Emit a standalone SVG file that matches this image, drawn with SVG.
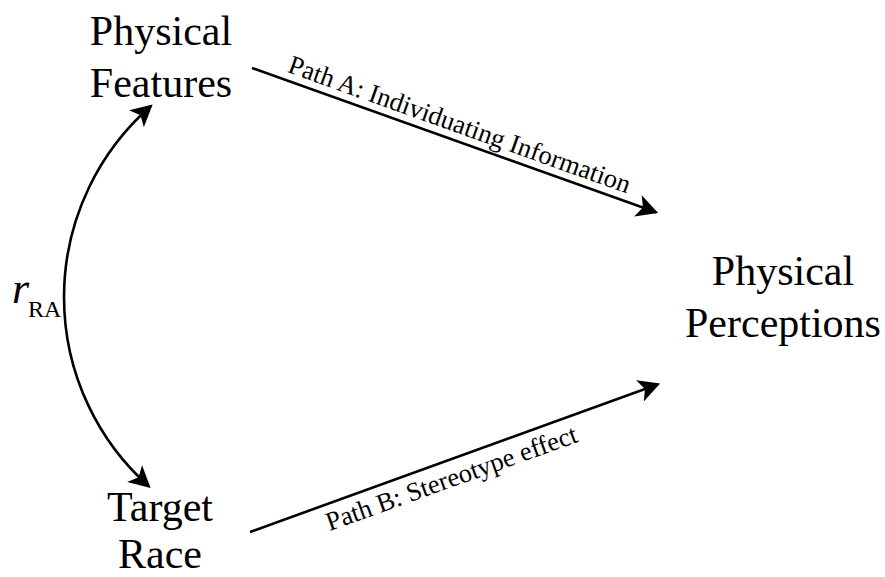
<svg xmlns="http://www.w3.org/2000/svg" width="885" height="577" viewBox="0 0 885 577">
  <style>
    .node { font-family: "Liberation Serif", "Times New Roman", serif; font-size: 42px; fill: #000; text-anchor: middle; }
    .lbl { font-family: "Liberation Serif", "Times New Roman", serif; font-size: 26.5px; fill: #000; text-anchor: middle; }
    .conn { fill: none; stroke: #000; stroke-width: 2.6; }
  </style>
  <defs>
    <marker id="arr" markerUnits="userSpaceOnUse" markerWidth="30" markerHeight="30" viewBox="-24 -12 28 24" refX="-2" refY="0" orient="auto-start-reverse">
      <path d="M0,0 L-20,-10.5 L-15,0 L-20,10.5 Z" fill="#000"/>
    </marker>
  </defs>
  <rect width="885" height="577" fill="#fff"/>
  <g id="connectors">
    <path class="conn" d="M252,68 L656.1,212.3" marker-end="url(#arr)"/>
    <path class="conn" d="M250,532 L658.1,384.3" marker-end="url(#arr)"/>
    <path class="conn" d="M151,106 A253.5,253.5 0 0 0 149,486.5" marker-start="url(#arr)" marker-end="url(#arr)"/>
    <g id="label-a" transform="translate(455,140.5) rotate(19.65)">
      <text class="lbl" x="-1" y="-8">Path A: Individuating Information</text>
    </g>
    <g id="label-b" transform="translate(455,458.5) rotate(-19.72)">
      <text class="lbl" x="-10" y="26">Path B: Stereotype effect</text>
    </g>
    <g id="label-r">
      <text x="12" y="303" font-family="'Liberation Serif', 'Times New Roman', serif" font-size="44" font-style="italic">r</text>
      <text x="28" y="317" font-family="'Liberation Serif', 'Times New Roman', serif" font-size="24">RA</text>
    </g>
  </g>
  <g id="physical-features">
    <text class="node" x="161" y="45">Physical</text>
    <text class="node" x="161" y="97">Features</text>
  </g>
  <g id="target-race">
    <text class="node" x="160" y="521">Target</text>
    <text class="node" x="160" y="568">Race</text>
  </g>
  <g id="physical-perceptions">
    <text class="node" x="783" y="285">Physical</text>
    <text class="node" x="783" y="337">Perceptions</text>
  </g>
</svg>
